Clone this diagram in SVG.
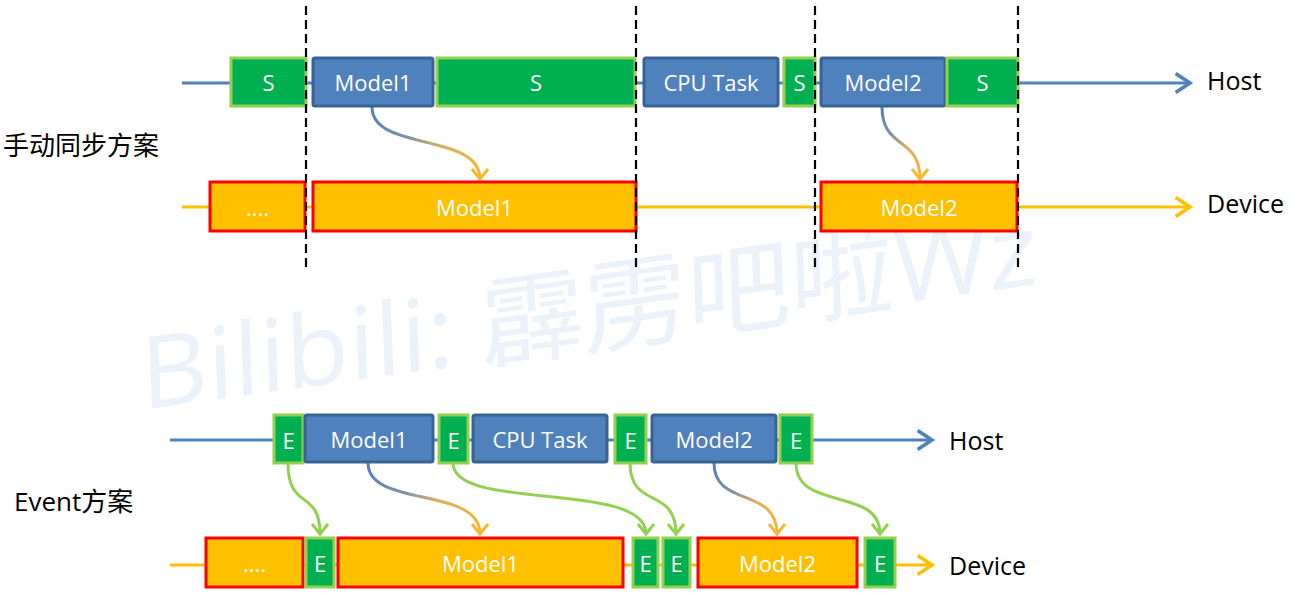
<svg xmlns="http://www.w3.org/2000/svg" width="1292" height="593" viewBox="0 0 1292 593">
<style>
  .s{fill:#00b050;stroke:#92d050;stroke-width:3}
  .b{fill:#4f81bd;stroke:#3a6394;stroke-width:3}
  .o{fill:#ffc000;stroke:#ff0000;stroke-width:3}
  .t{font-family:"Open Sans","Liberation Sans",sans-serif;font-size:22px;fill:#ffffff;text-anchor:middle;dominant-baseline:central}
  .lbl{font-family:"Open Sans","Liberation Sans",sans-serif;font-size:25px;fill:#000}
  .zh{font-family:"Open Sans","Noto Sans CJK SC",sans-serif;font-size:26px;fill:#000}
  .dash{stroke:#000;stroke-width:2.2;stroke-dasharray:9 5;fill:none}
  .hl{stroke:#4f81bd;stroke-width:3;fill:none}
  .dl{stroke:#ffc000;stroke-width:3;fill:none}
  .g{stroke:#92d050;stroke-width:3;fill:none;marker-end:url(#mg)}
  .m{stroke-width:3;fill:none;marker-end:url(#mo)}
</style>
<defs>
  <marker id="mh" markerUnits="userSpaceOnUse" markerWidth="24" markerHeight="24" refX="16" refY="10" orient="auto" viewBox="0 0 20 20">
    <path d="M4,2 L16,10 L4,18" fill="none" stroke="#4f81bd" stroke-width="3"/>
  </marker>
  <marker id="md" markerUnits="userSpaceOnUse" markerWidth="24" markerHeight="24" refX="16" refY="10" orient="auto" viewBox="0 0 20 20">
    <path d="M4,2 L16,10 L4,18" fill="none" stroke="#ffc000" stroke-width="3"/>
  </marker>
  <marker id="mg" markerUnits="userSpaceOnUse" markerWidth="20" markerHeight="20" refX="14" refY="10" orient="auto" viewBox="0 0 20 20">
    <path d="M4,2 L14,10 L4,18" fill="none" stroke="#92d050" stroke-width="3"/>
  </marker>
  <marker id="mo" markerUnits="userSpaceOnUse" markerWidth="20" markerHeight="20" refX="14" refY="10" orient="auto" viewBox="0 0 20 20">
    <path d="M4,2 L14,10 L4,18" fill="none" stroke="#f5b830" stroke-width="3"/>
  </marker>
  <linearGradient id="g1" gradientUnits="userSpaceOnUse" x1="372" y1="107" x2="480" y2="178">
    <stop offset="0" stop-color="#4f81bd"/><stop offset="0.35" stop-color="#7f8faa"/><stop offset="0.6" stop-color="#d9b060"/><stop offset="1" stop-color="#f5b830"/>
  </linearGradient>
  <linearGradient id="g2" gradientUnits="userSpaceOnUse" x1="882" y1="107" x2="920" y2="178">
    <stop offset="0" stop-color="#4f81bd"/><stop offset="0.35" stop-color="#7f8faa"/><stop offset="0.6" stop-color="#d9b060"/><stop offset="1" stop-color="#f5b830"/>
  </linearGradient>
  <linearGradient id="g3" gradientUnits="userSpaceOnUse" x1="368" y1="463" x2="480" y2="533">
    <stop offset="0" stop-color="#4f81bd"/><stop offset="0.35" stop-color="#7f8faa"/><stop offset="0.6" stop-color="#d9b060"/><stop offset="1" stop-color="#f5b830"/>
  </linearGradient>
  <linearGradient id="g4" gradientUnits="userSpaceOnUse" x1="714" y1="463" x2="777" y2="533">
    <stop offset="0" stop-color="#4f81bd"/><stop offset="0.35" stop-color="#7f8faa"/><stop offset="0.6" stop-color="#d9b060"/><stop offset="1" stop-color="#f5b830"/>
  </linearGradient>
</defs>

<text transform="translate(142,410) rotate(-8) skewX(-6)" font-family="Open Sans, Noto Sans CJK SC, sans-serif" font-size="100" fill="#ebf2f9" textLength="905" lengthAdjust="spacingAndGlyphs">Bilibili: 霹雳吧啦Wz</text>

<g id="connectors">
  <line class="hl" x1="182" y1="83" x2="1190" y2="83" marker-end="url(#mh)"/>
  <line class="dl" x1="182" y1="207" x2="1190" y2="207" marker-end="url(#md)"/>
  <line class="hl" x1="170" y1="440" x2="932" y2="440" marker-end="url(#mh)"/>
  <line class="dl" x1="170" y1="565" x2="932" y2="565" marker-end="url(#md)"/>
  <path class="m" stroke="url(#g1)" d="M372,107 C372,152 480,132 480,179"/>
  <path class="m" stroke="url(#g2)" d="M882,107 C882,150 920,136 920,179"/>
  <path class="m" stroke="url(#g3)" d="M368,463 C368,508 480,486 480,534"/>
  <path class="m" stroke="url(#g4)" d="M714,463 C714,508 777,486 777,534"/>
  <path class="g" d="M288,463 C288,512 320,488 320,534"/>
  <path class="g" d="M453,463 C453,512 646,480 646,534"/>
  <path class="g" d="M630,463 C630,510 676,486 676,534"/>
  <path class="g" d="M796,463 C796,512 880,486 880,534"/>
</g>

<g id="sync-host">
  <g id="h-s1"><rect class="s" x="231" y="58" width="75" height="48"/><text class="t" x="268.5" y="82">S</text></g>
  <g id="h-model1"><rect class="b" x="313" y="58" width="120" height="48" rx="2"/><text class="t" x="373" y="82">Model1</text></g>
  <g id="h-s2"><rect class="s" x="437" y="58" width="198" height="48"/><text class="t" x="536" y="82">S</text></g>
  <g id="h-cpu"><rect class="b" x="644" y="58" width="134" height="48" rx="2"/><text class="t" x="711" y="82">CPU Task</text></g>
  <g id="h-s3"><rect class="s" x="784" y="58" width="31" height="48"/><text class="t" x="799.5" y="82">S</text></g>
  <g id="h-model2"><rect class="b" x="821" y="58" width="124" height="48" rx="2"/><text class="t" x="883" y="82">Model2</text></g>
  <g id="h-s4"><rect class="s" x="947" y="58" width="71" height="48"/><text class="t" x="982.5" y="82">S</text></g>
</g>

<g id="sync-device">
  <g id="d-dots"><rect class="o" x="210" y="182" width="95" height="49"/><text class="t" x="257.5" y="207">....</text></g>
  <g id="d-model1"><rect class="o" x="313" y="182" width="323" height="49"/><text class="t" x="474.5" y="207">Model1</text></g>
  <g id="d-model2"><rect class="o" x="821" y="182" width="196" height="49"/><text class="t" x="919" y="207">Model2</text></g>
</g>

<g id="dashes">
  <line class="dash" x1="306" y1="6" x2="306" y2="272"/>
  <line class="dash" x1="636" y1="6" x2="636" y2="272"/>
  <line class="dash" x1="815" y1="6" x2="815" y2="272"/>
  <line class="dash" x1="1018" y1="6" x2="1018" y2="272"/>
</g>

<g id="event-host">
  <g id="eh-e1"><rect class="s" x="274" y="415" width="29" height="48"/><text class="t" x="288.5" y="440">E</text></g>
  <g id="eh-model1"><rect class="b" x="305" y="415" width="128" height="47" rx="2"/><text class="t" x="369" y="439">Model1</text></g>
  <g id="eh-e2"><rect class="s" x="439" y="415" width="29" height="48"/><text class="t" x="453.5" y="440">E</text></g>
  <g id="eh-cpu"><rect class="b" x="473" y="415" width="134" height="47" rx="2"/><text class="t" x="540" y="439">CPU Task</text></g>
  <g id="eh-e3"><rect class="s" x="615" y="415" width="31" height="48"/><text class="t" x="630.5" y="440">E</text></g>
  <g id="eh-model2"><rect class="b" x="652" y="415" width="124" height="47" rx="2"/><text class="t" x="714" y="439">Model2</text></g>
  <g id="eh-e4"><rect class="s" x="780" y="415" width="32" height="48"/><text class="t" x="796" y="440">E</text></g>
</g>

<g id="event-device">
  <g id="ed-dots"><rect class="o" x="206" y="538" width="97" height="49"/><text class="t" x="254.5" y="563">....</text></g>
  <g id="ed-e1"><rect class="s" x="306" y="538" width="28" height="49"/><text class="t" x="320" y="563">E</text></g>
  <g id="ed-model1"><rect class="o" x="338" y="538" width="285" height="49"/><text class="t" x="480.5" y="563">Model1</text></g>
  <g id="ed-e2"><rect class="s" x="633" y="538" width="25" height="49"/><text class="t" x="645.5" y="563">E</text></g>
  <g id="ed-e3"><rect class="s" x="663" y="538" width="27" height="49"/><text class="t" x="676.5" y="563">E</text></g>
  <g id="ed-model2"><rect class="o" x="698" y="538" width="159" height="49"/><text class="t" x="777.5" y="563">Model2</text></g>
  <g id="ed-e4"><rect class="s" x="865" y="538" width="30" height="49"/><text class="t" x="880" y="563">E</text></g>
</g>

<g id="labels">
  <text class="lbl" x="1207" y="90">Host</text>
  <text class="lbl" x="1207" y="213">Device</text>
  <text class="lbl" x="949" y="450">Host</text>
  <text class="lbl" x="949" y="575">Device</text>
  <text class="zh" x="3" y="155">手动同步方案</text>
  <text class="zh" x="14" y="511">Event方案</text>
</g>
</svg>
